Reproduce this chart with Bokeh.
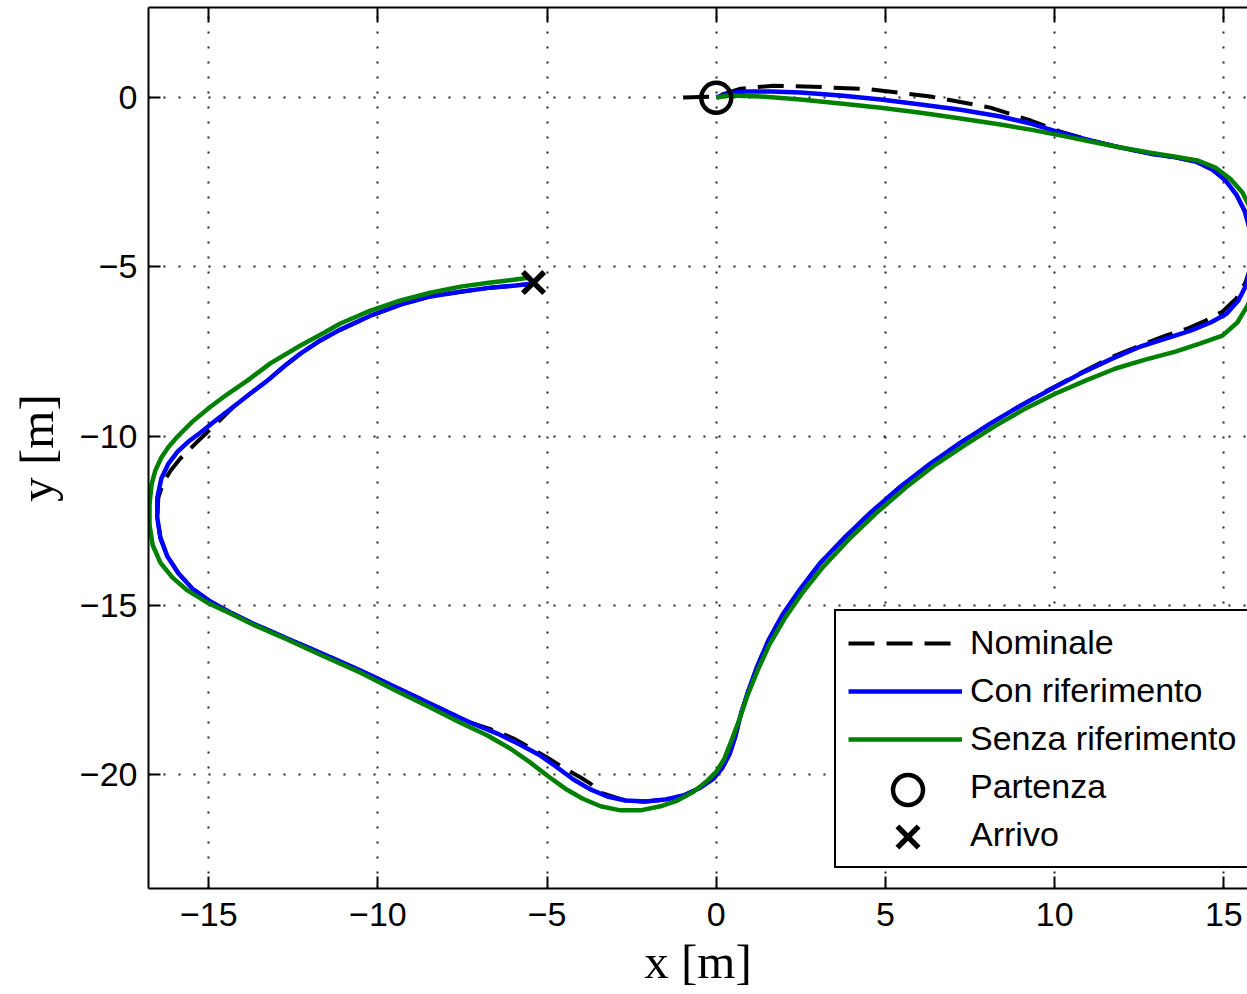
from bokeh.plotting import figure
from bokeh.models import (Range1d, FixedTicker, LinearAxis, Legend, LegendItem)
from bokeh.embed import file_html
from bokeh.resources import INLINE

# ---------------- data ----------------
x_ticks = [-15, -10, -5, 0, 5, 10, 15]
x_tick_labels = ["\u221215", "\u221210", "\u22125", "0", "5", "10", "15"]
y_ticks = [-20, -15, -10, -5, 0]
y_tick_labels = ["\u221220", "\u221215", "\u221210", "\u22125", "0"]

series_names = ["Nominale", "Con riferimento", "Senza riferimento", "Partenza", "Arrivo"]

# Con riferimento (blue)
con_x = [0.00, 0.36, 0.86, 1.60, 2.49, 3.67, 4.86, 6.04, 7.22, 8.40, 9.29, 10.17, 11.06,
         11.95, 12.83, 13.57, 14.16, 14.66, 15.05, 15.37, 15.61, 15.76, 15.82, 15.79, 15.67,
         15.43, 15.08, 14.61, 14.02, 13.28, 12.54, 11.65, 10.77, 9.88, 8.99, 8.10, 7.22,
         6.33, 5.45, 4.56, 3.82, 3.08, 2.49, 1.96, 1.54, 1.22, 0.95, 0.74, 0.57, 0.39, 0.18,
         -0.08, -0.47, -0.97, -1.50, -2.09, -2.68, -3.22, -3.72, -4.22, -4.69, -5.20, -5.79,
         -6.47, -7.26, -8.15, -9.33, -10.51, -11.70, -12.73, -13.62, -14.36, -14.95, -15.48,
         -15.89, -16.22, -16.43, -16.52, -16.52, -16.40, -16.19, -15.92, -15.60, -15.24,
         -14.80, -14.27, -13.77, -13.27, -12.74, -12.29, -11.70, -11.11, -10.22, -9.33,
         -8.45, -7.56, -6.67, -5.93, -5.40]
con_y = [0.01, 0.13, 0.19, 0.19, 0.16, 0.07, -0.05, -0.20, -0.35, -0.55, -0.76, -1.03,
         -1.26, -1.47, -1.65, -1.76, -1.88, -2.12, -2.44, -2.86, -3.33, -3.86, -4.45, -4.99,
         -5.52, -5.99, -6.38, -6.64, -6.88, -7.12, -7.35, -7.73, -8.15, -8.62, -9.10, -9.63,
         -10.19, -10.81, -11.49, -12.26, -12.97, -13.74, -14.51, -15.27, -16.04, -16.78,
         -17.52, -18.17, -18.85, -19.41, -19.80, -20.12, -20.39, -20.62, -20.74, -20.80,
         -20.77, -20.65, -20.44, -20.15, -19.80, -19.44, -19.12, -18.79, -18.47, -18.05,
         -17.49, -16.93, -16.40, -15.96, -15.57, -15.21, -14.89, -14.51, -14.06, -13.56,
         -13.00, -12.41, -11.82, -11.25, -10.81, -10.46, -10.16, -9.89, -9.54, -9.13, -8.74,
         -8.36, -7.91, -7.56, -7.17, -6.85, -6.44, -6.11, -5.87, -5.73, -5.61, -5.55, -5.49]

# Senza riferimento (green)
senza_x = [0.00, 0.42, 1.31, 2.49, 3.67, 4.86, 6.04, 7.22, 8.40, 9.29, 10.17, 11.06, 11.95,
           12.83, 13.57, 14.22, 14.75, 15.19, 15.55, 15.79, 15.94, 16.00, 16.00, 15.91, 15.70,
           15.40, 14.96, 14.31, 13.57, 12.68, 11.80, 10.91, 10.03, 9.14, 8.26, 7.37, 6.48,
           5.60, 4.71, 3.91, 3.17, 2.55, 2.02, 1.57, 1.22, 0.92, 0.69, 0.45, 0.24, 0.01,
           -0.29, -0.67, -1.15, -1.65, -2.24, -2.83, -3.42, -3.96, -4.46, -4.96, -5.49, -6.08,
           -6.76, -7.56, -8.45, -9.48, -10.51, -11.70, -12.73, -13.62, -14.36, -15.04, -15.63,
           -16.07, -16.43, -16.66, -16.75, -16.75, -16.69, -16.58, -16.40, -16.19, -15.92,
           -15.48, -14.95, -14.42, -13.86, -13.18, -12.29, -11.70, -11.11, -10.22, -9.33,
           -8.45, -7.56, -6.67, -5.93, -5.50]
senza_y = [0.01, 0.07, 0.04, -0.05, -0.17, -0.29, -0.44, -0.61, -0.79, -0.94, -1.11, -1.29,
           -1.47, -1.62, -1.74, -1.85, -2.06, -2.39, -2.80, -3.27, -3.83, -4.45, -5.04, -5.64,
           -6.14, -6.64, -7.03, -7.26, -7.50, -7.74, -8.00, -8.36, -8.74, -9.18, -9.69,
           -10.25, -10.84, -11.52, -12.29, -13.06, -13.85, -14.62, -15.39, -16.16, -16.93,
           -17.67, -18.35, -19.00, -19.53, -19.91, -20.21, -20.51, -20.77, -20.94, -21.06,
           -21.06, -20.94, -20.71, -20.42, -20.06, -19.65, -19.24, -18.85, -18.47, -18.02,
           -17.52, -16.99, -16.46, -15.99, -15.60, -15.24, -14.92, -14.56, -14.18, -13.74,
           -13.21, -12.61, -12.02, -11.43, -11.02, -10.63, -10.32, -10.01, -9.57, -9.13,
           -8.74, -8.36, -7.85, -7.32, -7.00, -6.67, -6.29, -5.99, -5.76, -5.58, -5.46, -5.37,
           -5.31]

# Nominale (dashed black)
nominal_x = [-0.98, 0.00, 0.72, 1.69, 2.87, 4.56, 6.33, 8.10, 9.29, 10.17, 11.06, 11.95,
             12.83, 13.57, 14.16, 14.66, 15.05, 15.37, 15.61, 15.76, 15.82, 15.79, 15.64,
             15.37, 14.96, 14.45, 13.93, 13.28, 12.75, 11.65, 10.68, 9.73, 8.99, 8.10, 7.22,
             6.33, 5.45, 4.56, 3.82, 3.08, 2.49, 1.96, 1.54, 1.22, 0.95, 0.74, 0.57, 0.39,
             0.18, -0.08, -0.47, -0.97, -1.50, -2.09, -2.68, -3.42, -3.72, -4.01, -4.52,
             -5.00, -5.49, -5.99, -6.47, -7.26, -8.15, -9.33, -10.51, -11.70, -12.73, -13.62,
             -14.36, -14.95, -15.48, -15.89, -16.22, -16.43, -16.52, -16.49, -16.34, -16.13,
             -15.84, -15.24, -14.74, -14.27, -13.77, -13.27, -12.74, -12.29, -11.70, -11.11,
             -10.22, -9.33, -8.45, -7.56, -6.67, -5.93, -5.40]
nominal_y = [0.01, 0.04, 0.27, 0.36, 0.33, 0.25, 0.04, -0.29, -0.67, -1.00, -1.26, -1.47,
             -1.65, -1.76, -1.88, -2.12, -2.44, -2.86, -3.33, -3.86, -4.45, -4.99, -5.46,
             -5.93, -6.32, -6.59, -6.82, -7.03, -7.23, -7.68, -8.18, -8.68, -9.10, -9.63,
             -10.19, -10.81, -11.49, -12.26, -12.97, -13.74, -14.51, -15.27, -16.04, -16.78,
             -17.52, -18.17, -18.85, -19.41, -19.80, -20.12, -20.39, -20.62, -20.74, -20.80,
             -20.77, -20.54, -20.27, -20.09, -19.80, -19.50, -19.21, -18.94, -18.73, -18.47,
             -18.05, -17.49, -16.93, -16.40, -15.96, -15.57, -15.21, -14.89, -14.51, -14.06,
             -13.56, -13.00, -12.41, -11.82, -11.37, -11.02, -10.66, -10.07, -9.60, -9.13,
             -8.74, -8.36, -7.91, -7.56, -7.17, -6.85, -6.44, -6.11, -5.87, -5.73, -5.61,
             -5.55, -5.49]

start_x = [0.0]
start_y = [0.0]
end_x = [-5.40]
end_y = [-5.46]

# ---------------- figure ----------------
TICK_FONT = "Liberation Sans"
LABEL_FONT = "Liberation Serif"

p = figure(width=1247, height=992,
           x_range=Range1d(-16.78, 15.70), y_range=Range1d(-23.37, 2.67),
           output_backend="svg", toolbar_location=None,
           min_border_left=148, min_border_right=0, min_border_top=7,
           min_border_bottom=104)
p.outline_line_color = None
p.background_fill_color = "white"
p.border_fill_color = "white"

for ax, ticks, labels in ((p.xaxis[0], x_ticks, x_tick_labels), (p.yaxis[0], y_ticks, y_tick_labels)):
    ax.ticker = FixedTicker(ticks=ticks)
    ax.major_label_overrides = {t: l for t, l in zip(ticks, labels)}
    ax.major_tick_in = 12
    ax.major_tick_out = 0
    ax.minor_tick_line_color = None
    ax.major_tick_line_width = 2
    ax.major_tick_line_color = "black"
    ax.axis_line_width = 2
    ax.axis_line_color = "black"
    ax.major_label_text_font = TICK_FONT
    ax.major_label_text_font_size = "34px"
    ax.major_label_text_color = "black"
    ax.axis_label_text_font = LABEL_FONT
    ax.axis_label_text_font_style = "normal"
    ax.axis_label_text_font_size = "49px"
    ax.axis_label_text_color = "black"

p.xaxis.axis_label = "x [m]"
p.yaxis.axis_label = "y [m]"
p.xaxis.major_label_standoff = 14
p.xaxis.axis_label_standoff = 5
p.yaxis.major_label_standoff = 11
p.yaxis.axis_label_standoff = 13

top_axis = LinearAxis(ticker=FixedTicker(ticks=x_ticks), major_label_text_font_size="0px",
                      major_label_standoff=0, major_tick_in=15, major_tick_out=0,
                      minor_tick_line_color=None, major_tick_line_width=2,
                      axis_line_width=2, axis_line_color="black",
                      major_label_overrides={t: "" for t in x_ticks})
p.add_layout(top_axis, "above")

for g, ticks in ((p.xgrid[0], x_ticks), (p.ygrid[0], y_ticks)):
    g.ticker = FixedTicker(ticks=ticks)
    g.grid_line_color = "#222222"
    g.grid_line_width = 2
    g.grid_line_dash = "2 13"

r_nom = p.line(nominal_x, nominal_y, line_color="black", line_width=4, line_dash="26 12",
               line_join="round")
r_con = p.line(con_x, con_y, line_color="#0000ff", line_width=4.5, line_join="round")
r_sen = p.line(senza_x, senza_y, line_color="#008000", line_width=4.5, line_join="round")
r_start = p.scatter(start_x, start_y, marker="circle", size=30, fill_color=None,
                    line_color="black", line_width=4.5)
r_end = p.scatter(end_x, end_y, marker="x", size=30, line_color="black", line_width=5.5)

# invisible stand-ins so the framed legend only carries the labels of the markers
d_start = p.scatter(start_x, start_y, marker="circle", size=1, fill_alpha=0, line_alpha=0)
d_end = p.scatter(end_x, end_y, marker="x", size=1, line_alpha=0)

legend = Legend(items=[
    LegendItem(label=series_names[0], renderers=[r_nom]),
    LegendItem(label=series_names[1], renderers=[r_con]),
    LegendItem(label=series_names[2], renderers=[r_sen]),
    LegendItem(label=series_names[3], renderers=[d_start]),
    LegendItem(label=series_names[4], renderers=[d_end]),
], location=(686, 20))
legend.label_text_font = TICK_FONT
legend.label_text_font_size = "34px"
legend.label_text_color = "black"
legend.glyph_width = 114
legend.glyph_height = 38
legend.label_height = 38
legend.label_width = 300
legend.label_standoff = 8
legend.spacing = 9
legend.padding = 12
legend.margin = 0
legend.border_line_color = "black"
legend.border_line_width = 2
legend.border_line_alpha = 1.0
legend.background_fill_color = "white"
legend.background_fill_alpha = 1.0
p.add_layout(legend)

# full-size legend markers (a legend draws a marker at 0.4 x its glyph box)
for rend, loc in ((r_start, (707, 61)), (r_end, (707, 14))):
    mk = Legend(items=[LegendItem(label=" ", renderers=[rend])], location=loc)
    mk.glyph_width = 105
    mk.glyph_height = 75
    mk.label_height = 75
    mk.padding = 0
    mk.margin = 0
    mk.label_standoff = 0
    mk.border_line_color = None
    mk.background_fill_alpha = 0
    mk.label_text_font_size = "10px"
    p.add_layout(mk)

open("out.html", "w").write(file_html(p, INLINE))
